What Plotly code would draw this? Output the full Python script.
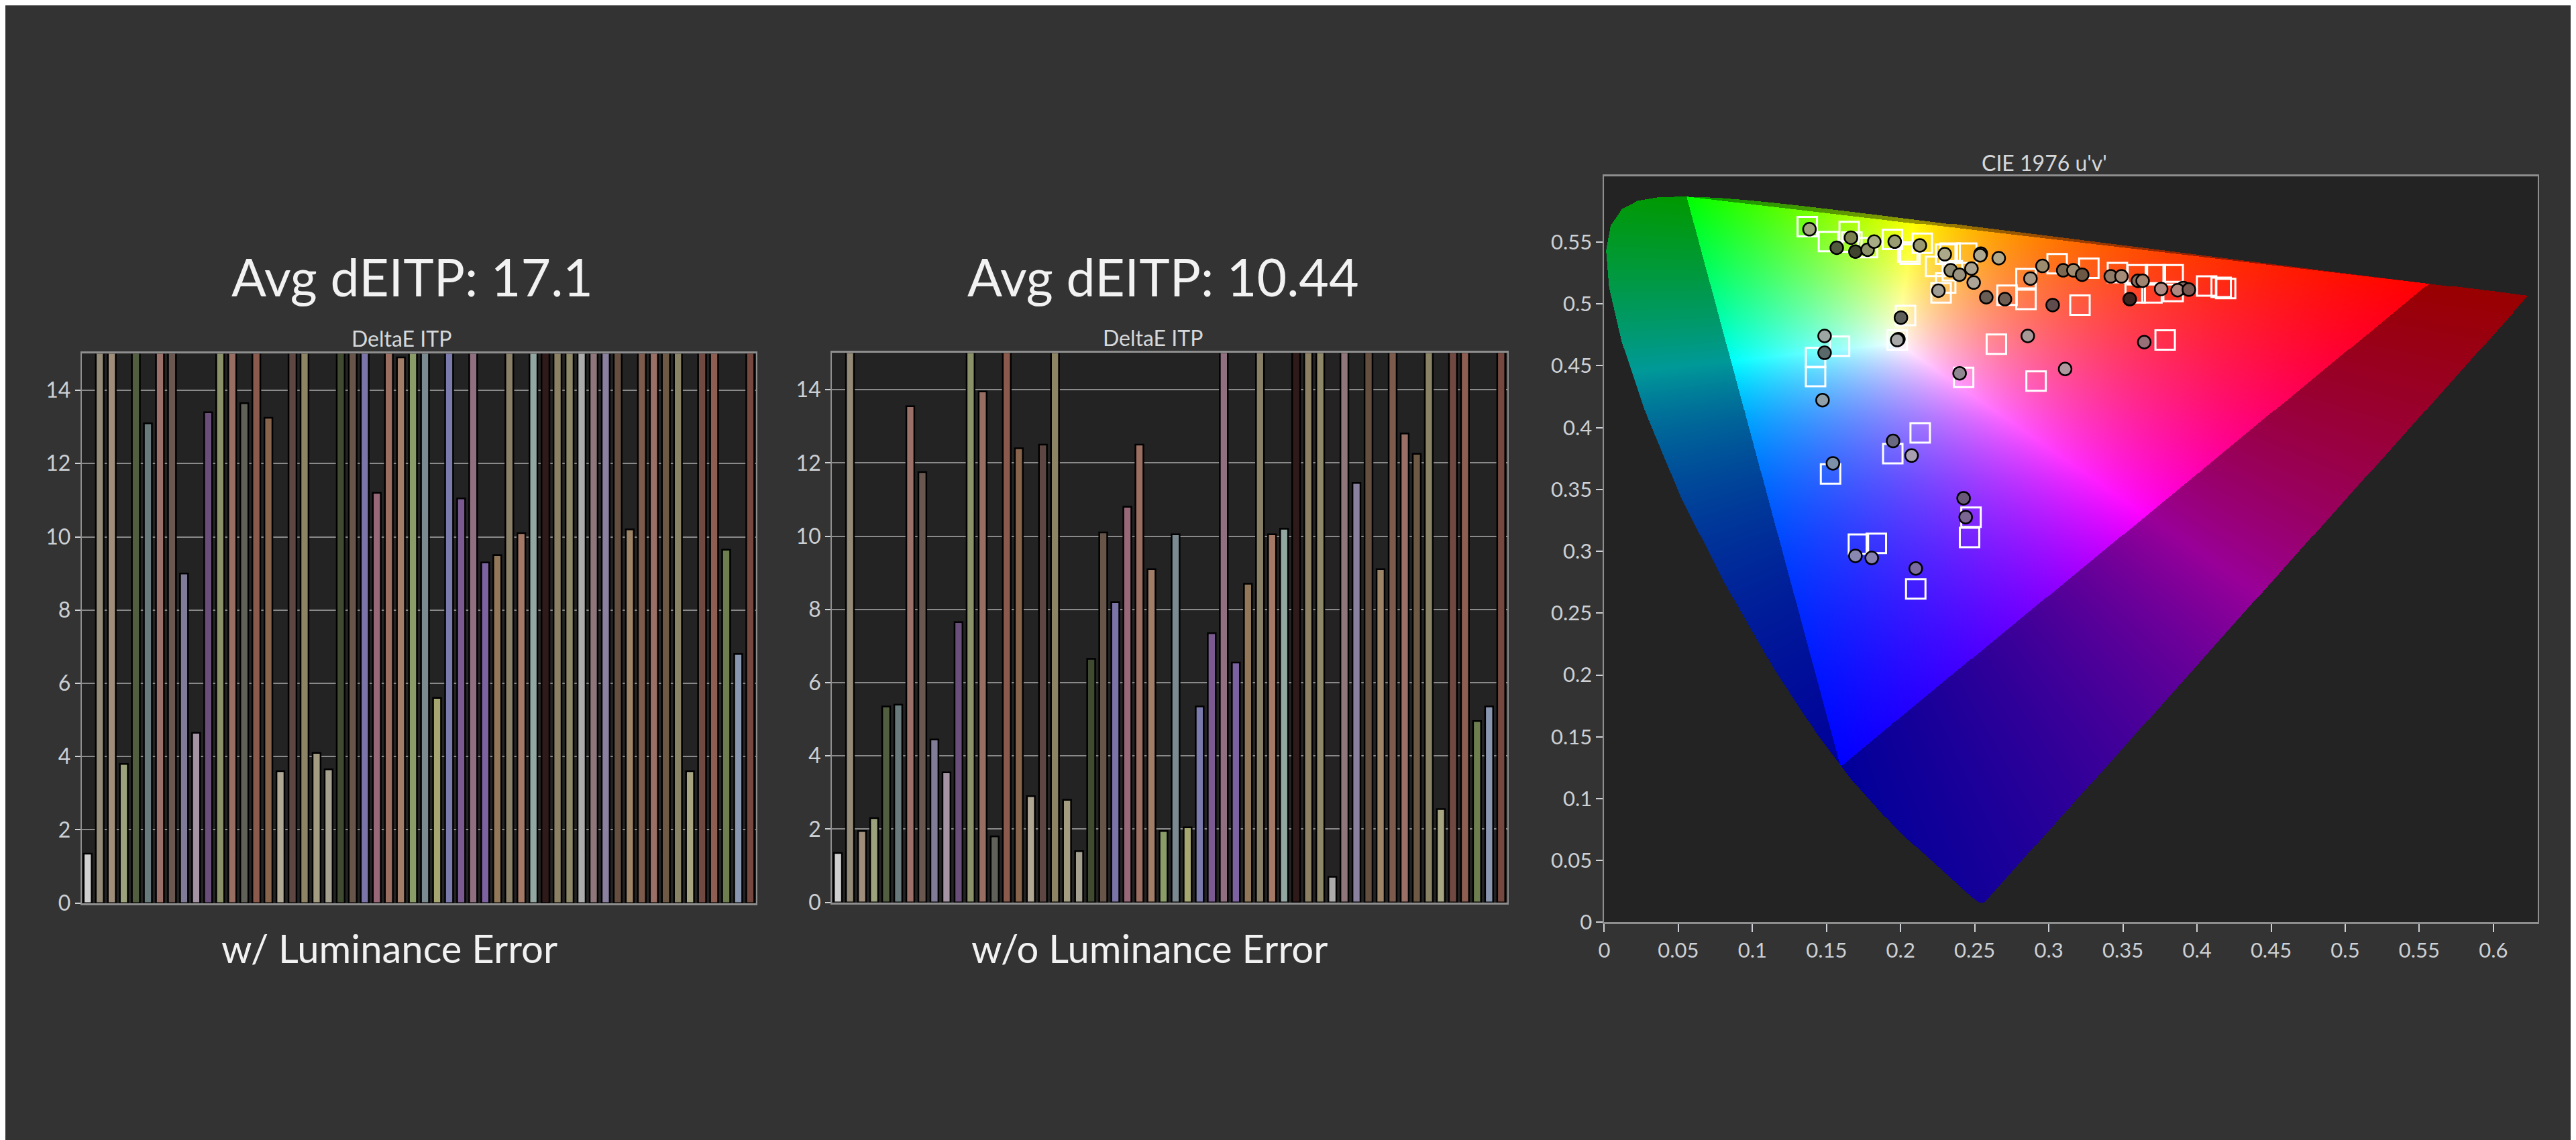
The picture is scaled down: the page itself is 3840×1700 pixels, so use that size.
import base64
import struct
import zlib

import numpy as np
import plotly.graph_objects as go

# canvas size (px)
W, H = 3840, 1700

# ---------------- data ----------------
patch_index = list(range(1, 57))

# DeltaE ITP per patch, with luminance error (bars above 15 run off the chart)
de_itp_with_lum = [
    1.35, 24, 23, 3.8, 21, 13.1, 25, 22, 9.0, 4.65,
    13.4, 24, 24, 13.65, 23, 13.25, 3.6, 22, 25, 4.1,
    3.65, 20, 21, 22, 11.2, 24, 14.9, 21, 23, 5.6,
    22, 11.05, 22, 9.3, 9.5, 22, 10.1, 21, 24, 23,
    22, 21, 24, 22, 23, 10.2, 24, 23, 22, 21,
    3.6, 25, 24, 9.65, 6.8, 23,
]

# DeltaE ITP per patch, without luminance error
de_itp_without_lum = [
    1.35, 19, 1.95, 2.3, 5.35, 5.4, 13.55, 11.75, 4.45, 3.55,
    7.65, 20, 13.95, 1.8, 18, 12.4, 2.9, 12.5, 19, 2.8,
    1.4, 6.65, 10.1, 8.2, 10.8, 12.5, 9.1, 1.95, 10.05, 2.05,
    5.35, 7.35, 18, 6.55, 8.7, 19, 10.05, 10.2, 20, 18,
    19, 0.7, 19, 11.45, 18, 9.1, 19, 12.8, 12.25, 19,
    2.55, 18, 19, 4.95, 5.35, 19,
]

avg_with_lum = 17.1
avg_without_lum = 10.44

# measured chromaticities (u', v')
measured_u = [
    0.1385, 0.1569, 0.1665, 0.1695, 0.1777, 0.1822, 0.1960, 0.2130, 0.2298, 0.2541,
    0.2537, 0.2662, 0.2338, 0.2397, 0.2478, 0.2493, 0.2255, 0.2578, 0.2704, 0.2876,
    0.2002, 0.2957, 0.3097, 0.3166, 0.3225, 0.3418, 0.3490, 0.3601, 0.3633, 0.3026,
    0.3546, 0.3758, 0.3907, 0.3869, 0.3945, 0.1487, 0.1487, 0.1473, 0.1985, 0.1977,
    0.2858, 0.3644, 0.2398, 0.3110, 0.1949, 0.2074, 0.1543, 0.2425, 0.2439, 0.1695,
    0.1805, 0.2102,
]
measured_v = [
    0.5604, 0.5454, 0.5536, 0.5423, 0.5438, 0.5504, 0.5504, 0.5473, 0.5402, 0.5407,
    0.5393, 0.5370, 0.5272, 0.5236, 0.5286, 0.5173, 0.5107, 0.5054, 0.5039, 0.5205,
    0.4889, 0.5307, 0.5272, 0.5272, 0.5236, 0.5223, 0.5223, 0.5187, 0.5187, 0.4991,
    0.5039, 0.5121, 0.5129, 0.5111, 0.5116, 0.4741, 0.4605, 0.4222, 0.4715, 0.4708,
    0.4741, 0.4691, 0.4439, 0.4474, 0.3892, 0.3774, 0.3711, 0.3429, 0.3276, 0.2963,
    0.2946, 0.2861,
]

# target chromaticities (u', v')
target_u = [
    0.1370, 0.1513, 0.1653, 0.1671, 0.1777, 0.1945, 0.2048, 0.2063, 0.2146, 0.2236,
    0.2304, 0.2334, 0.2446, 0.2349, 0.2304, 0.2273, 0.2718, 0.2846, 0.2846, 0.2033,
    0.3056, 0.3270, 0.3463, 0.3598, 0.3583, 0.3696, 0.3719, 0.3839, 0.3839, 0.4065,
    0.4163, 0.4193, 0.3210, 0.1588, 0.1426, 0.1426, 0.1977, 0.2646, 0.3785, 0.2425,
    0.2914, 0.2132, 0.1947, 0.1527, 0.2475, 0.2465, 0.1715, 0.1836, 0.2102,
]
target_v = [
    0.5625, 0.5504, 0.5586, 0.5500, 0.5456, 0.5522, 0.5420, 0.5402, 0.5491, 0.5303,
    0.5402, 0.5411, 0.5411, 0.5268, 0.5170, 0.5089, 0.5071, 0.5205, 0.5036, 0.4907,
    0.5325, 0.5289, 0.5254, 0.5236, 0.5089, 0.5089, 0.5236, 0.5236, 0.5100, 0.5145,
    0.5134, 0.5125, 0.4991, 0.4658, 0.4566, 0.4413, 0.4708, 0.4675, 0.4708, 0.4406,
    0.4376, 0.3958, 0.3790, 0.3626, 0.3276, 0.3112, 0.3057, 0.3064, 0.2696,
]

# CIE 1931 2-degree spectral locus (x, y), 380-700 nm
locus_x = [
    0.17411, 0.17401, 0.17380, 0.17356, 0.17334, 0.17302, 0.17258, 0.17209, 0.17141, 0.17030,
    0.16888, 0.16690, 0.16441, 0.16110, 0.15664, 0.15099, 0.14396, 0.13550, 0.12412, 0.10959,
    0.09129, 0.06871, 0.04539, 0.02346, 0.00817, 0.00386, 0.01387, 0.03885, 0.07430, 0.11416,
    0.15472, 0.19288, 0.22962, 0.26578, 0.30160, 0.33736, 0.37310, 0.40874, 0.44406, 0.47877,
    0.51249, 0.54479, 0.57515, 0.60293, 0.62704, 0.64823, 0.66576, 0.68008, 0.69150, 0.70061,
    0.70792, 0.71903, 0.72599, 0.73000, 0.73209, 0.73342, 0.73413, 0.73469,
]
locus_y = [
    0.00496, 0.00498, 0.00492, 0.00492, 0.00480, 0.00478, 0.00480, 0.00483, 0.00510, 0.00579,
    0.00690, 0.00856, 0.01086, 0.01379, 0.01771, 0.02274, 0.02970, 0.03988, 0.05780, 0.08684,
    0.13270, 0.20072, 0.29498, 0.41270, 0.53842, 0.65482, 0.75019, 0.81202, 0.83380, 0.82621,
    0.80586, 0.78163, 0.75433, 0.72432, 0.69231, 0.65885, 0.62445, 0.58961, 0.55471, 0.52020,
    0.48659, 0.45443, 0.42423, 0.39650, 0.37249, 0.35139, 0.33401, 0.31975, 0.30834, 0.29930,
    0.29203, 0.28093, 0.27401, 0.27000, 0.26791, 0.26658, 0.26587, 0.26531,
]

# ---------------- styles ----------------
bar_colors = [
    '#d0d0d0', '#948a78', '#a08e7a', '#9ca27c', '#525e40', '#687a7c', '#9a7068', '#6a5850',
    '#807c98', '#a494a4', '#684e78', '#8a9068', '#986e62', '#60625a', '#8c5a4c', '#88644c',
    '#b0a894', '#5e4642', '#8c8464', '#a49c80', '#a6a090', '#404a30', '#665548', '#7a74a8',
    '#986878', '#9a6e60', '#a27e68', '#8a9c68', '#7a8a90', '#a6a670', '#7a7aac', '#7a5a90',
    '#907080', '#7c62a0', '#927858', '#8a8068', '#a47a66', '#92a6a2', '#2e1a18', '#8c8062',
    '#8e8868', '#acacac', '#8e767a', '#8a80a0', '#644e40', '#9e8466', '#7c5a4c', '#9a7066',
    '#6e5a44', '#8a8264', '#a8a682', '#704a42', '#8e5e52', '#6e7e4e', '#8896b0', '#74483e',
]

measured_colors = [
    '#a0a47c', '#525a3e', '#7a8050', '#40442e', '#8c9068', '#a8ac84', '#9a9c72', '#9a9870',
    '#aca88a', '#6c6858', '#aca890', '#b0a888', '#8c8a74', '#9a9480', '#aca490', '#aca496',
    '#a09e94', '#6a5e54', '#6e5e54', '#a89888', '#5e5e5a', '#9a8c6c', '#7c6850', '#a08c72',
    '#6c5844', '#907a68', '#a48c78', '#8a6c5c', '#a08470', '#604c4c', '#3c2420', '#b08c84',
    '#8a6a60', '#b08880', '#7a5650', '#9ea6a4', '#5a6a6a', '#90a0a8', '#707070', '#a8a8a8',
    '#a89898', '#987078', '#908890', '#b098a0', '#6a6880', '#a8a0b0', '#7c90a8', '#6a5878',
    '#7a6690', '#8888b0', '#8882b0', '#7a6aa0',
]

FONT = 'Lato'
TICK_COLOR = '#cdd0d4'
FRAME_COLOR = '#8e8e8e'


def fx(x):
    return x / W


def fy(y):
    return 1 - y / H


# ---------------- chromaticity diagram background ----------------
U_MAX, V_MAX = 0.63, 0.603
IW, IH = 1395, 1124
du, dv = U_MAX / IW, V_MAX / IH

lx = np.array(locus_x)
ly = np.array(locus_y)
den_l = -2 * lx + 12 * ly + 3
locus_u = 4 * lx / den_l
locus_v = 9 * ly / den_l

uu, vv = np.meshgrid((np.arange(IW) + 0.5) * du, (np.arange(IH) + 0.5) * dv)


def inside_polygon(px_, py_, poly_x, poly_y):
    inside = np.zeros(px_.shape, dtype=bool)
    n = len(poly_x)
    j = n - 1
    for i in range(n):
        xi, yi, xj, yj = poly_x[i], poly_y[i], poly_x[j], poly_y[j]
        if yi != yj:
            cond = ((yi > py_) != (yj > py_)) & (px_ < (xj - xi) * (py_ - yi) / (yj - yi) + xi)
            inside ^= cond
        j = i
    return inside


mask = inside_polygon(uu, vv, locus_u, locus_v)

den = 6 * uu - 16 * vv + 12
cx = 9 * uu / den
cy = 4 * vv / den
xyz = np.stack([cx, cy, 1 - cx - cy])

# BT.2020 RGB -> XYZ
M2020 = np.array([
    [0.636958, 0.144617, 0.168881],
    [0.262700, 0.677998, 0.059302],
    [0.000000, 0.028073, 1.060985],
])
rgb = np.tensordot(np.linalg.inv(M2020), xyz, axes=1)
in_gamut = (rgb >= 0).all(axis=0)
rgb = np.clip(rgb, 0, None)
peak = rgb.max(axis=0)
peak[peak <= 0] = 1
rgb = (rgb / peak) ** 0.95
rgb[:, ~in_gamut] *= 0.6

rgba = np.zeros((IH, IW, 4), dtype=np.uint8)
rgba[..., :3] = np.clip(np.moveaxis(rgb, 0, -1) * 255, 0, 255).astype(np.uint8)
rgba[..., 3] = np.where(mask, 255, 0).astype(np.uint8)


def png_uri(img):
    h, w, _ = img.shape
    raw = b''.join(b'\x00' + img[r].tobytes() for r in range(h))

    def chunk(tag, data):
        c = struct.pack('>I', len(data)) + tag + data
        return c + struct.pack('>I', zlib.crc32(tag + data) & 0xffffffff)

    png = (b'\x89PNG\r\n\x1a\n'
           + chunk(b'IHDR', struct.pack('>IIBBBBB', w, h, 8, 6, 0, 0, 0))
           + chunk(b'IDAT', zlib.compress(raw, 9))
           + chunk(b'IEND', b''))
    return 'data:image/png;base64,' + base64.b64encode(png).decode()


diagram_src = png_uri(rgba)

# ---------------- figure ----------------
fig = go.Figure()

fig.add_trace(go.Bar(
    x=patch_index, y=de_itp_with_lum, xaxis='x', yaxis='y',
    marker=dict(color=bar_colors, line=dict(color='black', width=2.5)),
    hoverinfo='y', showlegend=False,
))
fig.add_trace(go.Bar(
    x=patch_index, y=de_itp_without_lum, xaxis='x2', yaxis='y2',
    marker=dict(color=bar_colors, line=dict(color='black', width=2.5)),
    hoverinfo='y', showlegend=False,
))

fig.add_trace(go.Image(
    source=diagram_src, x0=du / 2, dx=du, y0=dv / 2, dy=dv,
    xaxis='x3', yaxis='y3', hoverinfo='skip',
))
fig.add_trace(go.Scatter(
    x=target_u, y=target_v, mode='markers', xaxis='x3', yaxis='y3',
    marker=dict(symbol='square-open', size=29, color='white', line=dict(width=3)),
    showlegend=False, name='Target',
))
fig.add_trace(go.Scatter(
    x=measured_u, y=measured_v, mode='markers', xaxis='x3', yaxis='y3',
    marker=dict(symbol='circle', size=19, color=measured_colors,
                line=dict(color='black', width=2.5)),
    showlegend=False, name='Measured',
))

bar_x = dict(range=[0.5, 56.5], showticklabels=False, ticks='', showgrid=False,
             zeroline=False, showline=True, linecolor=FRAME_COLOR, linewidth=3, mirror=True)
bar_y = dict(range=[0, 15], tickvals=list(range(0, 15, 2)), ticks='outside', ticklen=8,
             tickwidth=2, tickcolor=TICK_COLOR, tickfont=dict(family=FONT, size=32, color=TICK_COLOR),
             showgrid=True, gridcolor='#8a8a8a', gridwidth=2, zeroline=False,
             showline=True, linecolor=FRAME_COLOR, linewidth=2, mirror=True)

u_ticks = [round(0.05 * i, 2) for i in range(13)]
v_ticks = [round(0.05 * i, 2) for i in range(12)]

fig.update_layout(
    width=W, height=H,
    margin=dict(l=0, r=0, t=0, b=0),
    paper_bgcolor='#333333',
    plot_bgcolor='#232323',
    bargap=0.34,
    font=dict(family=FONT, color='#f2f2f2'),
    xaxis=dict(domain=[fx(105), fx(1113)], anchor='y', **bar_x),
    yaxis=dict(domain=[fy(1353), fy(525)], anchor='x', **bar_y),
    xaxis2=dict(domain=[fx(1226), fx(2235)], anchor='y2', **bar_x),
    yaxis2=dict(domain=[fy(1352), fy(524)], anchor='x2', **bar_y),
    xaxis3=dict(domain=[fx(2380), fx(3775)], anchor='y3', range=[0, U_MAX],
                tickvals=u_ticks, ticktext=[f'{t:g}' for t in u_ticks],
                ticks='outside', ticklen=12, tickwidth=2, tickcolor=TICK_COLOR,
                tickfont=dict(family=FONT, size=31, color=TICK_COLOR),
                showgrid=False, zeroline=False, showline=True, linecolor=FRAME_COLOR,
                linewidth=3, mirror=True),
    yaxis3=dict(domain=[fy(1382), fy(258)], anchor='x3', range=[0, V_MAX],
                autorange=False, scaleanchor=False,
                tickvals=v_ticks, ticktext=[f'{t:g}' for t in v_ticks],
                ticks='outside', ticklen=10, tickwidth=2, tickcolor=TICK_COLOR,
                tickfont=dict(family=FONT, size=31, color=TICK_COLOR),
                showgrid=False, zeroline=False, showline=True, linecolor=FRAME_COLOR,
                linewidth=2, mirror=True),
)

annotations = [
    (599, 408, f'Avg dEITP: {avg_with_lum:g}', 77, '#f2f2f2'),
    (1721, 408, f'Avg dEITP: {avg_without_lum:g}', 77, '#f2f2f2'),
    (583, 502, 'DeltaE ITP', 32, '#d6d8da'),
    (1705, 501, 'DeltaE ITP', 32, '#d6d8da'),
    (3038, 237, "CIE 1976 u'v'", 32, '#d6d8da'),
    (565, 1421, 'w/ Luminance Error', 58, '#f2f2f2'),
    (1700, 1421, 'w/o Luminance Error', 58, '#f2f2f2'),
]
for x, y, text, size, color in annotations:
    fig.add_annotation(x=fx(x), y=fy(y), xref='paper', yref='paper', text=text,
                       showarrow=False, xanchor='center', yanchor='middle',
                       font=dict(family=FONT, size=size, color=color))

fig.write_html('out.html')
